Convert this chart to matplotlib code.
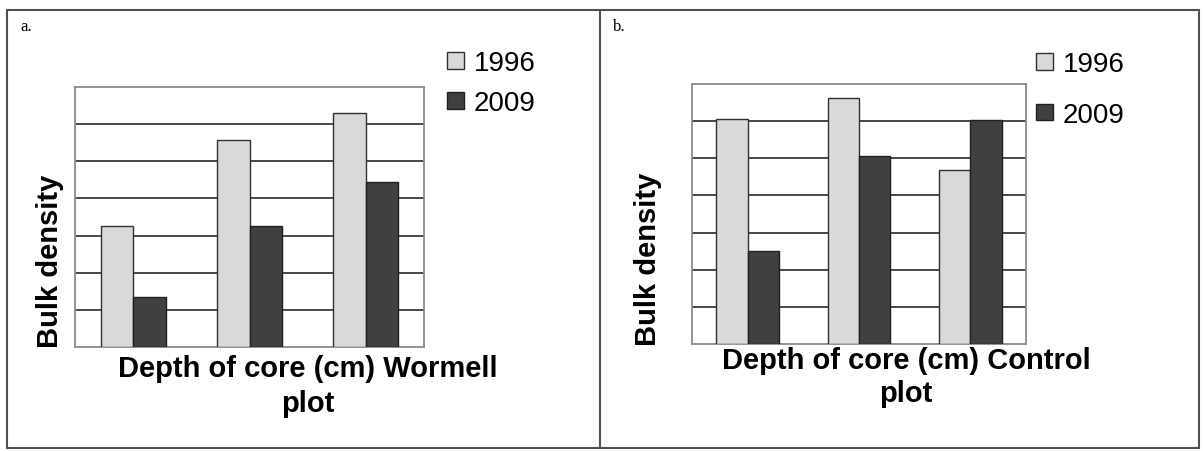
import matplotlib
matplotlib.use('Agg')
import matplotlib.pyplot as plt
import numpy as np
from matplotlib.patches import Rectangle
from matplotlib.lines import Line2D

plt.rcParams['font.family'] = ['Liberation Sans', 'DejaVu Sans']

# data (no numeric axis in the original, units = gridlines)
depths = ['0-10', '10-20', '20-30']
years = ['1996', '2009']
wormell_1996 = [3.27, 5.56, 6.30]
wormell_2009 = [1.34, 3.27, 4.44]
control_1996 = [6.05, 6.62, 4.68]
control_2009 = [2.51, 5.07, 6.03]

W, H = 1203, 452
fig = plt.figure(figsize=(W / 100, H / 100), dpi=100)


def px_axes(x0, y0, x1, y1):
    # pixel box (top-left origin) -> figure axes
    return fig.add_axes([x0 / W, 1 - y1 / H, (x1 - x0) / W, (y1 - y0) / H])


def bar_panel(ax, v1996, v2009):
    x = np.arange(len(depths))
    w = 0.28
    ax.bar(x - w / 2, v1996, w, color='#d9d9d9', edgecolor='#303030', linewidth=1, label=years[0], zorder=3)
    ax.bar(x + w / 2, v2009, w, color='#404040', edgecolor='#202020', linewidth=1, label=years[1], zorder=3)
    ax.set_xlim(-0.5, len(depths) - 0.5)
    ax.set_ylim(0, 7)
    ax.set_yticks(np.arange(1, 7))
    ax.set_xticks([])
    ax.tick_params(left=False, labelleft=False)
    ax.yaxis.grid(True, color='#3a3a3a', linewidth=1.3, zorder=0)
    ax.set_axisbelow(True)
    for s in ax.spines.values():
        s.set_color('#8a8a8a')
        s.set_linewidth(1.3)


def legend(ax, x, y, spacing):
    ax.legend(loc='upper left', bbox_to_anchor=(x / W, 1 - y / H), bbox_transform=fig.transFigure,
              frameon=False, fontsize=20, handlelength=0.6, handleheight=0.55,
              handletextpad=0.35, labelspacing=spacing, borderpad=0, borderaxespad=0)


# panel a
ax1 = px_axes(75, 88, 424, 348)
bar_panel(ax1, wormell_1996, wormell_2009)
legend(ax1, 447, 51, 0.51)
fig.text(50 / W, 1 - 261 / H, 'Bulk density', rotation=90, ha='center', va='center',
         fontsize=21, fontweight='bold')
fig.text(308 / W, 1 - 355 / H, 'Depth of core (cm) Wormell\nplot', ha='center', va='top',
         fontsize=21, fontweight='bold', multialignment='center', linespacing=1.3)
fig.text(20 / W, 1 - 19 / H, 'a.', ha='left', va='top', fontsize=12, family='Liberation Serif')

# panel b
ax2 = px_axes(692, 85, 1026, 345)
bar_panel(ax2, control_1996, control_2009)
legend(ax2, 1036, 52, 0.89)
fig.text(648 / W, 1 - 259 / H, 'Bulk density', rotation=90, ha='center', va='center',
         fontsize=21, fontweight='bold')
fig.text(906 / W, 1 - 347 / H, 'Depth of core (cm) Control\nplot', ha='center', va='top',
         fontsize=21, fontweight='bold', multialignment='center', linespacing=1.22)
fig.text(613 / W, 1 - 19 / H, 'b.', ha='left', va='top', fontsize=12, family='Liberation Serif')

# outer frame and divider
fig.add_artist(Rectangle((7 / W, 1 - 449 / H), (1199 - 7) / W, (449 - 11) / H, transform=fig.transFigure,
                         fill=False, edgecolor='#505050', linewidth=1.5))
fig.add_artist(Line2D([600 / W, 600 / W], [1 - 449 / H, 1 - 11 / H], transform=fig.transFigure,
                      color='#505050', linewidth=1.5))

fig.savefig('out.png', dpi=100)
